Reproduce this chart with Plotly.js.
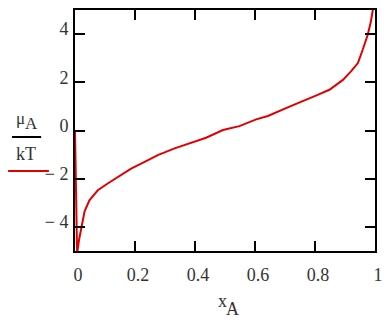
<!DOCTYPE html>
<html>
<head>
<meta charset="utf-8">
<script src="https://cdn.plot.ly/plotly-3.0.1.min.js"></script>
<style>html,body{margin:0;padding:0;background:#fff;}#chart{width:387px;height:322px;}</style>
</head>
<body>
<div id="chart"></div>
<script>
const xA = [0, 0.007, 0.014, 0.021, 0.032, 0.048, 0.076, 0.109, 0.143, 0.187, 0.232, 0.276, 0.332, 0.382, 0.437, 0.493, 0.548, 0.604, 0.643, 0.715, 0.771, 0.809, 0.848, 0.893, 0.92, 0.943, 0.959, 0.976, 0.986, 0.994];
const muA = [0, -5.1, -4.5, -4.0, -3.35, -2.9, -2.48, -2.2, -1.92, -1.58, -1.3, -1.02, -0.74, -0.53, -0.3, 0.02, 0.18, 0.46, 0.6, 0.99, 1.27, 1.48, 1.69, 2.1, 2.45, 2.8, 3.35, 3.98, 4.5, 5.1];
const xTicks = [0, 0.2, 0.4, 0.6, 0.8, 1];
const xTickText = ["0", "0.2", "0.4", "0.6", "0.8", "1"];
const yTicks = [-4, -2, 0, 2, 4];
const yTickText = ["\u2212 4", "\u2212 2", "0", "2", "4"];

const fontFam = "Liberation Serif";
const txtCol = "#333";
const trace = {
  x: xA, y: muA, type: "scatter", mode: "lines",
  line: {color: "#e00000", width: 2},
  hoverinfo: "skip"
};
const axisCommon = {
  showline: true, linecolor: "#000", linewidth: 2, mirror: "ticks",
  ticks: "inside", ticklen: 10, tickwidth: 2, tickcolor: "#000",
  showgrid: false, zeroline: false,
  tickfont: {family: fontFam, size: 18, color: txtCol}
};
function ann(text, px, py, size) {
  return {text: text, xref: "paper", yref: "paper", x: (px - 75) / 300, y: (251 - py) / 241,
    showarrow: false, xanchor: "center", yanchor: "middle",
    font: {family: fontFam, size: size, color: txtCol}};
}
const layout = {
  width: 387, height: 322,
  margin: {l: 75, r: 12, t: 10, b: 71},
  paper_bgcolor: "#fff", plot_bgcolor: "#fff",
  showlegend: false,
  font: {family: fontFam, color: txtCol},
  xaxis: Object.assign({}, axisCommon, {
    range: [0, 1], tickvals: xTicks, ticktext: xTickText,
    ticklabelstandoff: 6, ticklabelshift: 3
  }),
  yaxis: Object.assign({}, axisCommon, {
    range: [-5, 5], tickvals: yTicks, ticktext: yTickText,
    ticklabelstandoff: 1, ticklabelshift: -5
  }),
  annotations: [
    ann("\u03bc", 20, 119, 17),
    ann("A", 31, 123.5, 17),
    ann("kT", 25.5, 153.5, 18),
    ann("x", 222, 301, 18),
    ann("A", 233, 308.5, 18)
  ],
  shapes: [
    {type: "line", xref: "paper", yref: "paper", x0: -0.21, x1: -0.113, y0: 0.473, y1: 0.473,
     line: {color: "#000", width: 2}},
    {type: "line", xref: "paper", yref: "paper", x0: -0.223, x1: -0.087, y0: 0.332, y1: 0.332,
     line: {color: "#e00000", width: 2}}
  ]
};
Plotly.newPlot("chart", [trace], layout, {displayModeBar: false, staticPlot: true});
</script>
</body>
</html>
